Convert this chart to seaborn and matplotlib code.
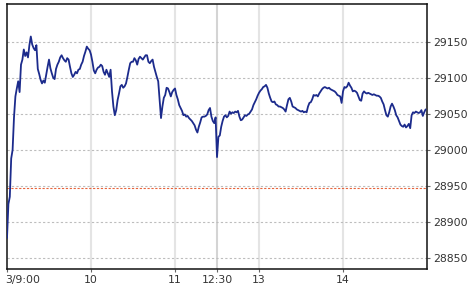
import matplotlib
matplotlib.use("Agg")
import matplotlib.pyplot as plt
import matplotlib.transforms as mtransforms
import seaborn as sns
import pandas as pd

# trading minutes since open (lunch break removed): 0..149 morning, 150..299 afternoon
morning_prices = [
    28878, 28925, 28935, 28988, 29000, 29045, 29074, 29085, 29095, 29080,
    29118, 29125, 29139, 29130, 29135, 29128, 29145, 29157, 29146, 29141,
    29138, 29145, 29112, 29105, 29097, 29092, 29096, 29093, 29104, 29115,
    29125, 29113, 29106, 29100, 29098, 29112, 29118, 29122, 29128, 29131,
    29127, 29124, 29122, 29127, 29125, 29115, 29106, 29101, 29104, 29108,
    29106, 29111, 29112, 29118, 29122, 29130, 29136, 29143, 29140, 29138,
    29132, 29122, 29110, 29106, 29111, 29114, 29115, 29118, 29116, 29108,
    29104, 29111, 29106, 29101, 29111, 29081, 29060, 29048, 29055, 29069,
    29078, 29088, 29090, 29086, 29088, 29092, 29101, 29111, 29120, 29122,
    29122, 29127, 29124, 29118, 29126, 29129, 29127, 29125, 29128, 29131,
    29131, 29122, 29120, 29123, 29125, 29115, 29108, 29101, 29095, 29070,
    29044, 29060, 29072, 29076, 29086, 29085, 29080, 29074, 29080, 29083,
    29085, 29076, 29070, 29062, 29058, 29054, 29048, 29049, 29046, 29047,
    29044, 29042, 29040, 29037, 29034, 29028, 29024, 29032, 29038, 29045,
    29046, 29046, 29047, 29049, 29055, 29058, 29046, 29040, 29037, 29045,
]
afternoon_prices = [
    28990, 29018, 29020, 29032, 29040, 29046, 29048, 29045, 29047, 29053,
    29050, 29052, 29051, 29053, 29052, 29054, 29046, 29041, 29042, 29045,
    29048, 29047, 29049, 29050, 29053, 29056, 29062, 29066, 29070, 29075,
    29079, 29082, 29084, 29087, 29088, 29090, 29086, 29078, 29072, 29067,
    29066, 29067, 29063, 29062, 29060, 29060, 29059, 29058, 29056, 29053,
    29062, 29070, 29072, 29067, 29060, 29059, 29058, 29056, 29055, 29054,
    29053, 29054, 29052, 29053, 29052, 29060, 29065, 29066, 29070, 29076,
    29075, 29076, 29074, 29078, 29081, 29084, 29086, 29087, 29086, 29085,
    29086, 29084, 29083, 29082, 29081, 29079, 29076, 29075, 29074, 29065,
    29081, 29087, 29086, 29088, 29093, 29089, 29086, 29081, 29082, 29081,
    29079, 29074, 29069, 29068, 29078, 29081, 29079, 29078, 29079, 29078,
    29077, 29076, 29077, 29076, 29075, 29075, 29074, 29072, 29067, 29063,
    29055, 29048, 29046, 29052, 29060, 29064, 29060, 29055, 29048, 29045,
    29040, 29035, 29033, 29032, 29035, 29031, 29033, 29036, 29030, 29048,
    29052, 29051, 29053, 29052, 29051, 29052, 29055, 29047, 29052, 29056,
]
prev_close = 28947
tick_times = ["9:00", "10:00", "11:00", "12:30", "13:00", "14:00"]
tick_labels = ["3/9:00", "10", "11", "12:30", "13", "14"]
y_ticks = [28850, 28900, 28950, 29000, 29050, 29100, 29150]


def session_minute(t):
    h, m = map(int, t.split(":"))
    mins = h * 60 + m
    if mins <= 11 * 60 + 30:
        return mins - 9 * 60
    return 150 + mins - (12 * 60 + 30)


prices = morning_prices + afternoon_prices
df = pd.DataFrame({"minute": list(range(len(prices))), "price": prices})

sns.set_style("white")
fig = plt.figure(figsize=(4.72, 2.94), dpi=100)
ax = fig.add_axes([7 / 472, 1 - 269 / 294, (427.3 - 7) / 472, (269 - 4) / 294])

tick_pos = [session_minute(t) for t in tick_times]
for t, pos in zip(tick_times, tick_pos):
    if t == "9:00":
        continue
    ax.axvline(pos, color="#d4d4d4" if t == "12:30" else "#e4e4e4", lw=1.5, zorder=0)
for yv in y_ticks:
    ax.axhline(yv, color="#bdbdbd", lw=0.8, ls=(0, (2, 2)), zorder=0.5)
ax.axhline(prev_close, color="#e8643c", lw=0.8, ls=(0, (2, 1.5)), zorder=0.6)

sns.lineplot(data=df, x="minute", y="price", ax=ax, color="#1c2b8c", lw=1.3,
             zorder=3)

ax.set_xlim(0, 300.2)
ax.set_ylim(28835, 29202)
ax.set_xticks(tick_pos)
ax.set_xticklabels(tick_labels)
ax.set_yticks(y_ticks)
ax.yaxis.tick_right()
ax.set_xlabel("")
ax.set_ylabel("")
ax.tick_params(axis="both", labelsize=7.8, labelcolor="#333333", color="#666666",
               length=2.5, width=0.8, direction="out", pad=1.5)
ax.tick_params(axis="y", right=True, left=False)
ax.tick_params(axis="x", bottom=True)
for s in ax.spines.values():
    s.set_color("#111111")
    s.set_linewidth(1.1)
    s.set_visible(True)

first = ax.get_xticklabels()[0]
first.set_horizontalalignment("left")
first.set_transform(first.get_transform() +
                    mtransforms.ScaledTranslation(-2 / 100, 0, fig.dpi_scale_trans))

fig.savefig("out.png", dpi=100)
